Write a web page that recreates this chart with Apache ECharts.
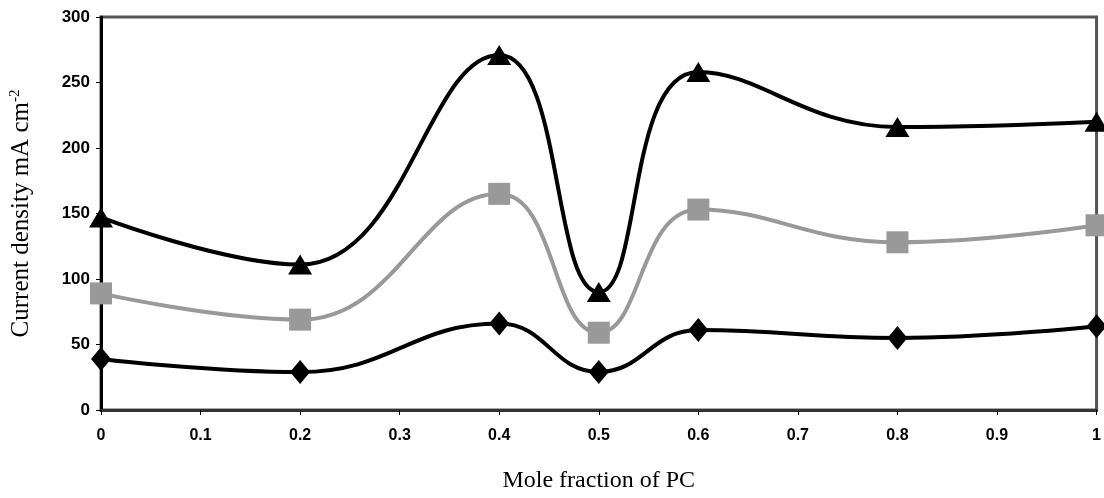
<!DOCTYPE html>
<html>
<head>
<meta charset="utf-8">
<script src="https://cdn.jsdelivr.net/npm/echarts@6/dist/echarts.min.js"></script>
<style>
  html, body { margin: 0; padding: 0; background: #fff; }
  #main { width: 1104px; height: 498px; }
</style>
</head>
<body>
<div id="main"></div>
<script>
// mole fraction of PC
var xValues = [0, 0.2, 0.4, 0.5, 0.6, 0.8, 1];
// current density, mA cm-2
var triangleSeries = [147, 111, 271, 90, 258, 216, 220];
var squareSeries = [89, 69, 165, 59, 153, 128, 141];
var diamondSeries = [39, 29, 66, 29, 61, 55, 64];

function pairs(vals) {
  var out = [];
  for (var i = 0; i < xValues.length; i++) {
    out.push([xValues[i], vals[i]]);
  }
  return out;
}

var chart = echarts.init(document.getElementById('main'));

var option = {
  animation: false,
  grid: {
    left: 100, right: 6, top: 17, bottom: 84,
    show: true,
    borderColor: '#555',
    borderWidth: 3
  },
  xAxis: {
    type: 'value',
    min: 0, max: 1, interval: 0.1,
    name: 'Mole fraction of PC',
    nameLocation: 'middle',
    nameGap: 59,
    nameTextStyle: { fontFamily: 'Liberation Serif', fontSize: 24, color: '#000' },
    axisLine: { show: true, lineStyle: { color: '#333', width: 3 } },
    axisTick: { show: true, length: 5, lineStyle: { color: '#000', width: 1 } },
    axisLabel: {
      margin: 18, color: '#000', fontFamily: 'Liberation Sans', fontSize: 16, fontWeight: 'bold',
      formatter: function (v) { return String(+v.toFixed(1)); }
    },
    splitLine: { show: false }
  },
  yAxis: {
    type: 'value',
    min: 0, max: 300, interval: 50,
    name: '{a|Current density mA cm}{s|-2}',
    nameLocation: 'middle',
    nameGap: 66,
    nameTextStyle: {
      rich: {
        a: { fontFamily: 'Liberation Serif', fontSize: 25, color: '#000' },
        s: { fontFamily: 'Liberation Serif', fontSize: 15, color: '#000', verticalAlign: 'top', padding: [0, 0, 12, 0] }
      }
    },
    axisLine: { show: true, lineStyle: { color: '#000', width: 3 } },
    axisTick: { show: true, length: 5, lineStyle: { color: '#000', width: 1 } },
    axisLabel: { margin: 11, color: '#000', fontFamily: 'Liberation Sans', fontSize: 17, fontWeight: 'bold' },
    splitLine: { show: false }
  },
  series: [
    {
      type: 'line', data: pairs(triangleSeries), smooth: 0.45,
      symbol: 'triangle', symbolSize: [24, 20],
      lineStyle: { color: '#000', width: 4 },
      itemStyle: { color: '#000' }
    },
    {
      type: 'line', data: pairs(squareSeries), smooth: 0.45,
      symbol: 'rect', symbolSize: 22,
      lineStyle: { color: '#999', width: 4 },
      itemStyle: { color: '#999' }
    },
    {
      type: 'line', data: pairs(diamondSeries), smooth: 0.45,
      symbol: 'diamond', symbolSize: [20, 24],
      lineStyle: { color: '#000', width: 4 },
      itemStyle: { color: '#000' }
    }
  ]
};

chart.setOption(option);
</script>
</body>
</html>
